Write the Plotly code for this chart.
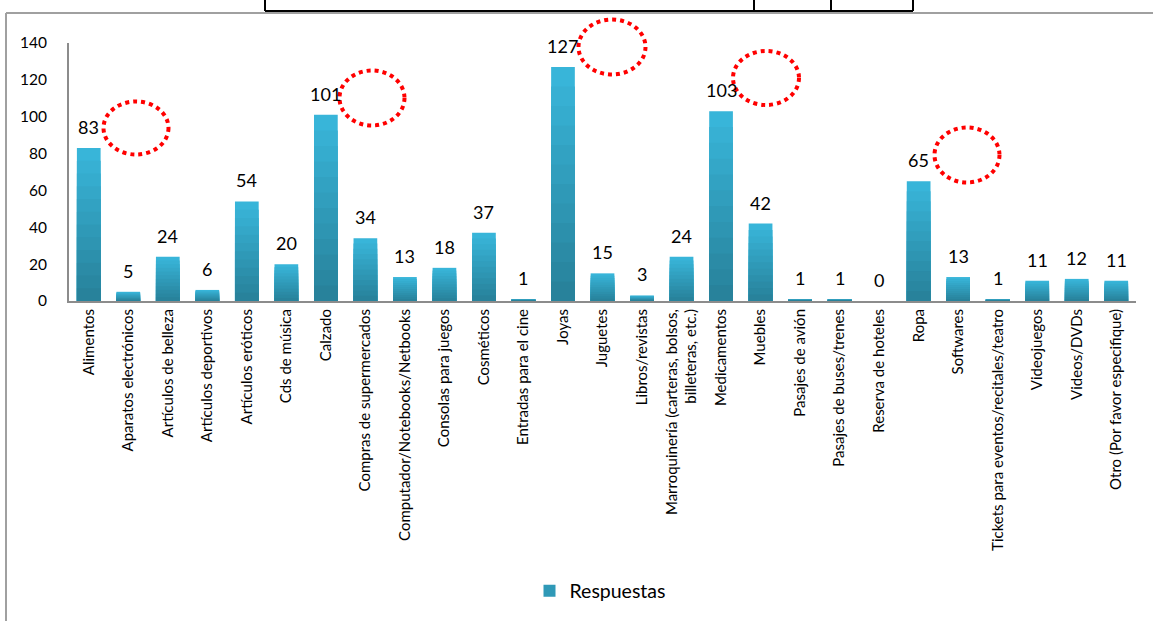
import plotly.graph_objects as go

categorias = [
    "Alimentos", "Aparatos electrónicos", "Artículos de belleza", "Artículos deportivos",
    "Artículos eróticos", "Cds de música", "Calzado", "Compras de supermercados",
    "Computador/Notebooks/Netbooks", "Consolas para juegos", "Cosméticos",
    "Entradas para el cine", "Joyas", "Juguetes", "Libros/revistas",
    "Marroquinería (carteras, bolsos,<br>billeteras, etc.)", "Medicamentos", "Muebles",
    "Pasajes de avión", "Pasajes de buses/trenes", "Reserva de hoteles", "Ropa",
    "Softwares", "Tickets para eventos/recitales/teatro", "Videojuegos", "Videos/DVDs",
    "Otro (Por favor especifique)",
]
respuestas = [83, 5, 24, 6, 54, 20, 101, 34, 13, 18, 37, 1, 127, 15, 3, 24, 103, 42,
              1, 1, 0, 65, 13, 1, 11, 12, 11]
y_ticks = [0, 20, 40, 60, 80, 100, 120, 140]

# area del grafico en pixeles
L, R, T, B = 69, 1136, 43, 301
W, H = 1153, 621


def px(x):
    return (x - L) / (R - L)


def py(y):
    return (B - y) / (B - T)


# circulos rojos punteados: centro y tamaño en pixeles
circulos = [(136, 128, 65, 53), (372, 98, 65, 55), (612, 47, 67, 55),
            (766, 78, 66, 54), (967, 155, 65, 55)]

font = "Lato, Open Sans, sans-serif"
top_col = (56, 181, 217)
bot_col = (40, 130, 155)
N = 12

fig = go.Figure()
idx = list(range(len(categorias)))
for k in range(N, 0, -1):
    t = (k - 1) / (N - 1)
    c = tuple(round(bot_col[i] + (top_col[i] - bot_col[i]) * t) for i in range(3))
    fig.add_trace(go.Bar(
        x=idx, y=[v * k / N for v in respuestas],
        marker=dict(color="rgb(%d,%d,%d)" % c, line=dict(width=0)),
        width=0.6, name="Respuestas", showlegend=(k == N // 2),
        hoverinfo="skip",
    ))

for i, v in enumerate(respuestas):
    fig.add_annotation(x=i, y=v, text=str(v), showarrow=False, yanchor="bottom",
                       yshift=8, font=dict(size=18, color="black", family=font))

shapes = []
for cx, cy, w, h in circulos:
    shapes.append(dict(type="circle", xref="paper", yref="paper",
                       x0=px(cx - w / 2), x1=px(cx + w / 2),
                       y0=py(cy + h / 2), y1=py(cy - h / 2),
                       line=dict(color="red", width=4, dash="dot")))
# marco gris del grafico
shapes.append(dict(type="line", xref="paper", yref="paper", x0=px(6), x1=px(1170),
                   y0=py(13), y1=py(13), line=dict(color="#a0a0a0", width=2)))
shapes.append(dict(type="line", xref="paper", yref="paper", x0=px(6), x1=px(6),
                   y0=py(13), y1=py(640), line=dict(color="#a0a0a0", width=2)))
# trozo de tabla arriba
for x0 in [265, 754, 831, 913]:
    shapes.append(dict(type="line", xref="paper", yref="paper", x0=px(x0), x1=px(x0),
                       y0=py(-10), y1=py(11), line=dict(color="black", width=2)))
shapes.append(dict(type="line", xref="paper", yref="paper", x0=px(265), x1=px(913),
                   y0=py(11), y1=py(11), line=dict(color="black", width=2)))

fig.update_layout(
    width=W, height=H,
    margin=dict(l=L, r=W - R, t=T, b=H - B, autoexpand=False),
    paper_bgcolor="white", plot_bgcolor="white",
    barmode="overlay", bargap=0.4,
    shapes=shapes,
    font=dict(family=font, color="black"),
    xaxis=dict(tickmode="array", tickvals=idx, ticktext=categorias, tickangle=-90,
               range=[-0.5, len(categorias) - 0.5], showline=True, linecolor="#8c8c8c",
               linewidth=2, ticks="", tickfont=dict(size=15, family=font),
               showgrid=False, zeroline=False, automargin=False),
    yaxis=dict(range=[0, 140], tickvals=y_ticks, showline=True, linecolor="#8c8c8c",
               linewidth=2, ticks="", showgrid=False, zeroline=False, automargin=False,
               tickfont=dict(size=15.5, family=font), ticklabelstandoff=17),
    legend=dict(orientation="h", xref="container", yref="container",
                x=600 / W, xanchor="center", y=1 - 591 / H,
                yanchor="middle", font=dict(size=19.5, family=font)),
)

fig.write_html("out.html", config={"displayModeBar": False},
               post_script="document.body.style.margin='0px';"
                           "document.body.style.overflow='hidden';"
                           "document.documentElement.style.overflow='hidden';")
